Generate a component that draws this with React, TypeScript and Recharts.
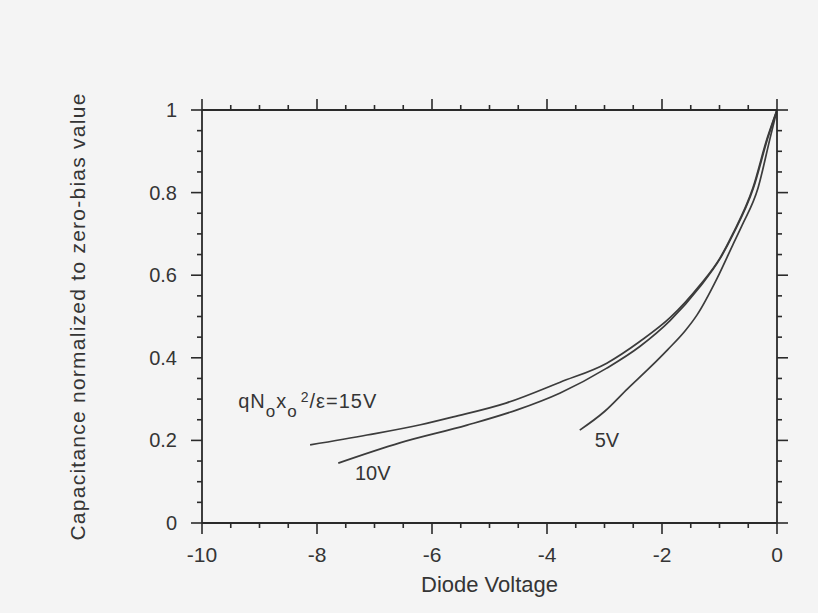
import React from 'react';
import { LineChart, Line, XAxis, YAxis, ReferenceDot } from 'recharts';

// Tick positions: every 0.5 V on x, every 0.05 on y (majors are labelled)
const X_TICKS = [-10, -9.5, -9, -8.5, -8, -7.5, -7, -6.5, -6, -5.5, -5, -4.5, -4, -3.5, -3, -2.5, -2, -1.5, -1, -0.5, 0];
const Y_TICKS = [0, 0.05, 0.1, 0.15, 0.2, 0.25, 0.3, 0.35, 0.4, 0.45, 0.5, 0.55, 0.6, 0.65, 0.7, 0.75, 0.8, 0.85, 0.9, 0.95, 1];

// v = diode voltage, c = capacitance / zero-bias capacitance
const CURVE_15V = [
  { v: -8.12, c: 0.189 },
  { v: -7.13, c: 0.213 },
  { v: -6.2, c: 0.238 },
  { v: -5.63, c: 0.257 },
  { v: -4.7, c: 0.291 },
  { v: -3.77, c: 0.341 },
  { v: -2.96, c: 0.387 },
  { v: -2.38, c: 0.44 },
  { v: -1.86, c: 0.497 },
  { v: -1.34, c: 0.576 },
  { v: -0.99, c: 0.642 },
  { v: -0.77, c: 0.7 },
  { v: -0.42, c: 0.811 },
  { v: -0.17, c: 0.932 },
  { v: 0, c: 1 },
];

const CURVE_10V = [
  { v: -7.63, c: 0.145 },
  { v: -6.56, c: 0.194 },
  { v: -5.39, c: 0.237 },
  { v: -4.52, c: 0.274 },
  { v: -3.77, c: 0.315 },
  { v: -2.96, c: 0.375 },
  { v: -2.38, c: 0.428 },
  { v: -1.86, c: 0.49 },
  { v: -1.34, c: 0.572 },
  { v: -0.99, c: 0.64 },
  { v: -0.76, c: 0.7 },
  { v: -0.41, c: 0.811 },
  { v: -0.16, c: 0.932 },
  { v: 0, c: 1 },
];

const CURVE_5V = [
  { v: -3.43, c: 0.225 },
  { v: -3.0, c: 0.27 },
  { v: -2.6, c: 0.325 },
  { v: -2.2, c: 0.378 },
  { v: -1.9, c: 0.42 },
  { v: -1.6, c: 0.465 },
  { v: -1.39, c: 0.504 },
  { v: -1.04, c: 0.593 },
  { v: -0.77, c: 0.673 },
  { v: -0.61, c: 0.72 },
  { v: -0.33, c: 0.811 },
  { v: -0.12, c: 0.932 },
  { v: 0, c: 1 },
];

// where the curve labels sit, in data units (start of text, baseline)
const LABEL_15V = { v: -9.37, c: 0.278 };
const LABEL_10V = { v: -7.34, c: 0.104, text: '10V' };
const LABEL_5V = { v: -3.17, c: 0.184, text: '5V' };

const INK = '#2a2a2a';
const TEXT = '#353535';
const FONT = '"Liberation Sans", Arial, Helvetica, sans-serif';

type Side = 'bottom' | 'top' | 'left' | 'right';

const isMajorX = (v: number) => Math.round(v * 2) % 4 === 0;
const isMajorY = (v: number) => Math.round(v * 100) % 20 === 0;

function makeTick(side: Side, withLabels: boolean) {
  return (props: any) => {
    const { x, y, payload } = props;
    const v = payload.value as number;
    const horizontal = side === 'bottom' || side === 'top';
    const major = horizontal ? isMajorX(v) : isMajorY(v);
    const len = major ? 11 : 5;
    let x2 = x;
    let y2 = y;
    if (side === 'bottom') y2 = y + len;
    if (side === 'top') y2 = y - len;
    if (side === 'left') x2 = x - len;
    if (side === 'right') x2 = x + len;
    return (
      <g>
        <line x1={x} y1={y} x2={x2} y2={y2} stroke={INK} strokeWidth={1.6} />
        {withLabels && major && side === 'bottom' && (
          <text x={x} y={y + 39} textAnchor="middle" fontSize={21} fill={TEXT} fontFamily={FONT}>
            {String(v)}
          </text>
        )}
        {withLabels && major && side === 'left' && (
          <text x={x - 25} y={y + 7} textAnchor="end" fontSize={20} fill={TEXT} fontFamily={FONT}>
            {String(v)}
          </text>
        )}
      </g>
    );
  };
}

const plainLabel = (text: string) => (props: any) => {
  const { viewBox } = props;
  return (
    <text x={viewBox.x} y={viewBox.y} fontSize={20} fill={TEXT} fontFamily={FONT}>
      {text}
    </text>
  );
};

const dopingLabel = (props: any) => {
  const { viewBox } = props;
  return (
    <text x={viewBox.x} y={viewBox.y} fontSize={20} fill={TEXT} fontFamily={FONT} letterSpacing={1}>
      qN
      <tspan dy={9} fontSize={17}>o</tspan>
      <tspan dy={-9}>x</tspan>
      <tspan dy={9} fontSize={17}>o</tspan>
      <tspan dy={-15} dx={3} fontSize={14}>2</tspan>
      <tspan dy={6}>/ε=15V</tspan>
    </text>
  );
};

export default function App() {
  return (
    <div style={{ position: 'absolute', left: 0, top: 0, width: 818, height: 613, background: '#f4f4f4' }}>
      <LineChart width={818} height={613} margin={{ top: 90, right: 21, bottom: 40, left: 72 }}>
        <XAxis
          xAxisId="bottom"
          orientation="bottom"
          type="number"
          dataKey="v"
          domain={[-10, 0]}
          ticks={X_TICKS}
          interval={0}
          allowDataOverflow
          height={50}
          tickSize={0}
          tickMargin={0}
          tickLine={false}
          axisLine={{ stroke: INK, strokeWidth: 1.8 }}
          tick={makeTick('bottom', true)}
          label={(p: any) => (
            <text
              x={p.viewBox.x + p.viewBox.width / 2}
              y={p.viewBox.y + 69}
              textAnchor="middle"
              fontSize={22}
              fill={TEXT}
              fontFamily={FONT}
            >
              Diode Voltage
            </text>
          )}
        />
        <XAxis
          xAxisId="top"
          orientation="top"
          type="number"
          dataKey="v"
          domain={[-10, 0]}
          ticks={X_TICKS}
          interval={0}
          allowDataOverflow
          height={20}
          tickSize={0}
          tickMargin={0}
          tickLine={false}
          axisLine={{ stroke: INK, strokeWidth: 1.8 }}
          tick={makeTick('top', false)}
        />
        <YAxis
          yAxisId="left"
          orientation="left"
          type="number"
          domain={[0, 1]}
          ticks={Y_TICKS}
          interval={0}
          allowDataOverflow
          width={130}
          tickSize={0}
          tickMargin={0}
          tickLine={false}
          axisLine={{ stroke: INK, strokeWidth: 1.8 }}
          tick={makeTick('left', true)}
          label={(p: any) => {
            const cx = p.viewBox.x + 5;
            const cy = p.viewBox.y + p.viewBox.height / 2;
            return (
              <text
                x={cx}
                y={cy}
                transform={`rotate(-90, ${cx}, ${cy})`}
                textAnchor="middle"
                dominantBaseline="central"
                fontSize={21}
                letterSpacing={1.25}
                fill={TEXT}
                fontFamily={FONT}
              >
                Capacitance normalized to zero-bias value
              </text>
            );
          }}
        />
        <YAxis
          yAxisId="right"
          orientation="right"
          type="number"
          domain={[0, 1]}
          ticks={Y_TICKS}
          interval={0}
          allowDataOverflow
          width={20}
          tickSize={0}
          tickMargin={0}
          tickLine={false}
          axisLine={{ stroke: INK, strokeWidth: 1.8 }}
          tick={makeTick('right', false)}
        />
        <Line
          xAxisId="bottom"
          yAxisId="left"
          data={CURVE_15V}
          dataKey="c"
          type="monotone"
          stroke="#3c3c3c"
          strokeWidth={1.7}
          dot={false}
          isAnimationActive={false}
        />
        <Line
          xAxisId="bottom"
          yAxisId="left"
          data={CURVE_10V}
          dataKey="c"
          type="monotone"
          stroke="#3c3c3c"
          strokeWidth={1.7}
          dot={false}
          isAnimationActive={false}
        />
        <Line
          xAxisId="bottom"
          yAxisId="left"
          data={CURVE_5V}
          dataKey="c"
          type="monotone"
          stroke="#3c3c3c"
          strokeWidth={1.7}
          dot={false}
          isAnimationActive={false}
        />
        <ReferenceDot xAxisId="bottom" yAxisId="left" x={LABEL_15V.v} y={LABEL_15V.c} r={0} stroke="none" fill="none" label={dopingLabel} />
        <ReferenceDot xAxisId="bottom" yAxisId="left" x={LABEL_10V.v} y={LABEL_10V.c} r={0} stroke="none" fill="none" label={plainLabel(LABEL_10V.text)} />
        <ReferenceDot xAxisId="bottom" yAxisId="left" x={LABEL_5V.v} y={LABEL_5V.c} r={0} stroke="none" fill="none" label={plainLabel(LABEL_5V.text)} />
      </LineChart>
    </div>
  );
}
